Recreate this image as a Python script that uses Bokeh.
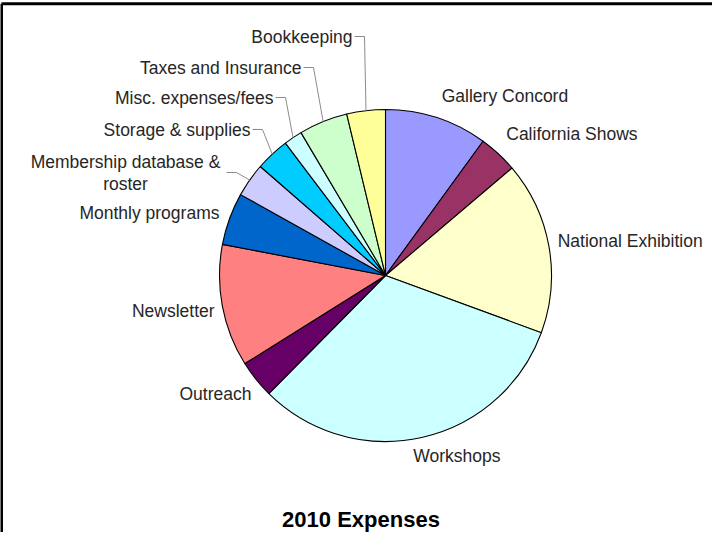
import math
from bokeh.plotting import figure
from bokeh.models import Range1d, ColumnDataSource
from bokeh.core.properties import value
from bokeh.embed import file_html
from bokeh.resources import INLINE

# ---------------- data ----------------
categories = [
    "Gallery Concord", "California Shows", "National Exhibition", "Workshops",
    "Outreach", "Newsletter", "Monthly programs", "Membership database & roster",
    "Storage & supplies", "Misc. expenses/fees", "Taxes and Insurance", "Bookkeeping",
]
values = [10.0, 3.8, 16.8, 31.8, 3.7, 11.9, 5.1, 3.3, 3.3, 1.8, 4.75, 3.75]
colors = ["#9999FF", "#993366", "#FFFFCC", "#CCFFFF", "#660066", "#FF8080",
          "#0066CC", "#CCCCFF", "#00CCFF", "#CCFFFF", "#CCFFCC", "#FFFF99"]
title_text = "2010 Expenses"

# ---------------- layout ----------------
W, H = 712, 532
CXp, CYp, R = 393, 283, 166          # pie centre (page px) and radius
LAB_R = 182                           # radius for direct labels
FONT = "Liberation Sans"
LSIZE = "17.5px"
TCOL = "#262626"

def dx(X):  # page x -> data x
    return X - 8

def dy(Y):  # page y -> data y
    return 540 - Y

# label nudges (page px) for labels placed around the pie
nudge = {
    "Gallery Concord": (0, -6), "California Shows": (-3, -8),
    "National Exhibition": (-7, -3), "Workshops": (-12, 3),
    "Outreach": (8, 5), "Newsletter": (8, 2), "Monthly programs": (5, 0),
}
# labels moved away with leader lines: (right end x, middle y) in page px
leader_pos = {
    "Bookkeeping": (360, 44), "Taxes and Insurance": (309, 75),
    "Misc. expenses/fees": (281, 105), "Storage & supplies": (258, 137),
}

p = figure(width=W, height=H, output_backend="svg", toolbar_location=None,
           x_range=Range1d(0, W), y_range=Range1d(0, H),
           x_axis_type=None, y_axis_type=None, min_border=0)
p.grid.visible = False
p.outline_line_color = None
p.background_fill_color = "white"
p.border_fill_color = "white"

# chart frame (top & left edges visible in the crop)
p.segment(x0=[1, 1], y0=[dy(11.3), dy(11.3)], x1=[W, 1], y1=[dy(11.3), -5],
          line_color="black", line_width=3)

total = sum(values)
cum = 0.0
starts, ends, mids = [], [], []
for v in values:
    a0 = cum / total * 360.0
    cum += v
    a1 = cum / total * 360.0
    starts.append(90 - a1)
    ends.append(90 - a0)
    mids.append((a0 + a1) / 2)

src = ColumnDataSource(dict(start=starts, end=ends, color=colors, cat=categories))
p.wedge(x=dx(CXp), y=dy(CYp), radius=R, start_angle="start", end_angle="end",
        start_angle_units="deg", end_angle_units="deg",
        fill_color="color", line_color="black", line_width=1.1, source=src)

def edge(theta, r):
    t = math.radians(theta)
    return CXp + r * math.sin(t), CYp - r * math.cos(t)

tx, ty, tt, ta = [], [], [], []
lx, ly = [], []
for cat, th in zip(categories, mids):
    if cat in nudge:
        X, Y = edge(th, LAB_R)
        nx, ny = nudge[cat]
        tx.append(dx(X + nx)); ty.append(dy(Y + ny)); tt.append(cat)
        ta.append("left" if math.sin(math.radians(th)) > 0 else "right")
    elif cat in leader_pos:
        ex, ey = leader_pos[cat]
        tx.append(dx(ex)); ty.append(dy(ey)); tt.append(cat); ta.append("right")
        PX, PY = edge(th, R)
        lx.append([dx(ex + 2), dx(ex + 12), dx(PX)])
        ly.append([dy(ey), dy(ey), dy(PY)])
    else:  # Membership database & roster : two centred lines
        parts = cat.split(" & ")
        l1, l2 = parts[0] + " &", parts[1]
        tx += [dx(133), dx(133)]; ty += [dy(169), dy(191)]
        tt += [l1, l2]; ta += ["center", "center"]
        PX, PY = edge(th, R)
        lx.append([dx(234), dx(244), dx(PX)])
        ly.append([dy(180), dy(180), dy(PY)])

p.multi_line(xs=lx, ys=ly, line_color="#8c8c8c", line_width=1)

lsrc = ColumnDataSource(dict(x=tx, y=ty, t=tt, a=ta))
p.text(x="x", y="y", text="t", text_align="a", text_baseline="middle",
       text_font=value(FONT), text_font_size=value(LSIZE),
       text_color=TCOL, source=lsrc)

p.text(x=[dx(368.5)], y=[dy(527)], text=[title_text], text_align="center",
       text_baseline="alphabetic", text_font=value(FONT),
       text_font_size=value("22px"), text_font_style="bold", text_color="black")

open("out.html", "w").write(file_html(p, INLINE))
